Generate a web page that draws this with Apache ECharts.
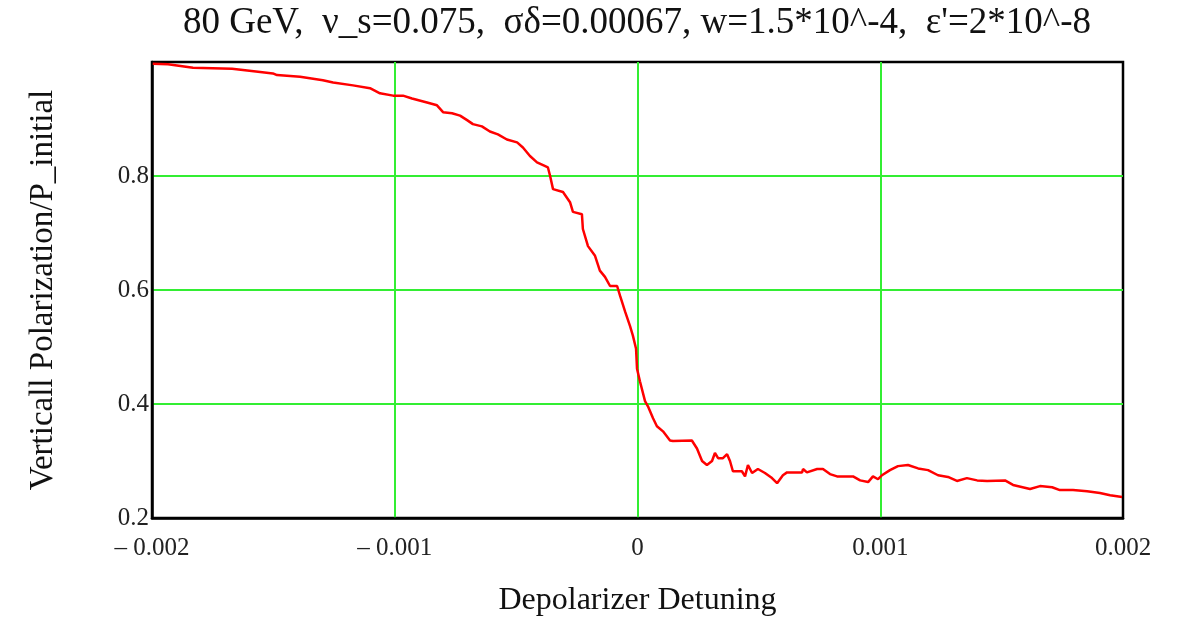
<!DOCTYPE html>
<html>
<head>
<meta charset="utf-8">
<script src="https://cdn.jsdelivr.net/npm/echarts@6/dist/echarts.min.js"></script>
<style>
  html, body { margin: 0; padding: 0; background: #fff; }
  #chart { width: 1183px; height: 622px; }
</style>
</head>
<body>
<div id="chart"></div>
<script>
// Depolarizer detuning sweep (x) and normalized vertical polarization (y)
const detuning = [
  -0.001997, -0.001934, -0.001926, -0.001831, -0.001670, -0.001666, -0.001563, -0.001502,
  -0.001485, -0.001390, -0.001382, -0.001296, -0.001254, -0.001172, -0.001102, -0.001061,
  -0.001007, -0.000966, -0.000929, -0.000867, -0.000826, -0.000801, -0.000764, -0.000731,
  -0.000702, -0.000678, -0.000641, -0.000608, -0.000575, -0.000538, -0.000496, -0.000472,
  -0.000443, -0.000414, -0.000389, -0.000369, -0.000360, -0.000348, -0.000307, -0.000278,
  -0.000266, -0.000229, -0.000225, -0.000204, -0.000175, -0.000155, -0.000134, -0.000113,
  -0.000084, -0.000072, -0.000051, -0.000031, -0.000019, -0.000006, -0.000002, 0.000010,
  0.000031, 0.000043, 0.000064, 0.000080, 0.000105, 0.000134, 0.000146, 0.000224,
  0.000245, 0.000266, 0.000286, 0.000307, 0.000319, 0.000332, 0.000352, 0.000369,
  0.000381, 0.000393, 0.000430, 0.000443, 0.000455, 0.000472, 0.000496, 0.000525,
  0.000554, 0.000575, 0.000599, 0.000616, 0.000678, 0.000682, 0.000698, 0.000740,
  0.000764, 0.000793, 0.000822, 0.000888, 0.000917, 0.000950, 0.000970, 0.000991,
  0.001007, 0.001040, 0.001073, 0.001114, 0.001156, 0.001197, 0.001238, 0.001279,
  0.001316, 0.001357, 0.001399, 0.001440, 0.001514, 0.001547, 0.001617, 0.001658,
  0.001708, 0.001740, 0.001794, 0.001852, 0.001905, 0.001947, 0.001996
];
const polarization = [
  0.997, 0.996, 0.993, 0.990, 0.988, 0.985, 0.983, 0.980,
  0.977, 0.974, 0.971, 0.968, 0.964, 0.959, 0.954, 0.945,
  0.941, 0.941, 0.936, 0.929, 0.924, 0.912, 0.910, 0.906,
  0.898, 0.891, 0.887, 0.878, 0.873, 0.864, 0.859, 0.850,
  0.835, 0.824, 0.819, 0.815, 0.800, 0.777, 0.772, 0.754,
  0.737, 0.733, 0.707, 0.677, 0.660, 0.634, 0.623, 0.607,
  0.607, 0.590, 0.562, 0.537, 0.520, 0.497, 0.462, 0.440,
  0.405, 0.396, 0.375, 0.361, 0.352, 0.336, 0.335, 0.336,
  0.322, 0.300, 0.293, 0.300, 0.314, 0.305, 0.305, 0.312,
  0.300, 0.282, 0.282, 0.273, 0.293, 0.279, 0.286, 0.279,
  0.270, 0.261, 0.275, 0.280, 0.280, 0.286, 0.280, 0.286,
  0.286, 0.277, 0.273, 0.273, 0.266, 0.263, 0.273, 0.268,
  0.275, 0.284, 0.291, 0.293, 0.287, 0.284, 0.275, 0.272,
  0.265, 0.270, 0.266, 0.265, 0.266, 0.258, 0.251, 0.256,
  0.254, 0.249, 0.249, 0.247, 0.244, 0.240, 0.237
];
const xTicks = { min: -0.002, max: 0.002, step: 0.001 };
const yTicks = { min: 0.2, max: 1.0, step: 0.2 };

const titleText = "80 GeV,  \u03BD_s=0.075,  \u03C3\u03B4=0.00067, w=1.5*10^-4,  \u03B5'=2*10^-8";
const serif = '"Liberation Serif", "DejaVu Serif", serif';

const chart = echarts.init(document.getElementById('chart'), null, { renderer: 'canvas' });

chart.setOption({
  animation: false,
  backgroundColor: '#ffffff',
  grid: {
    left: 152, right: 60, top: 62, bottom: 101,
    show: true, borderColor: '#000', borderWidth: 2.5, backgroundColor: 'transparent'
  },
  graphic: [
    {
      type: 'text', x: 637, y: 23,
      style: {
        text: titleText, font: '37px ' + serif, fill: '#111',
        align: 'center', verticalAlign: 'middle'
      }
    }
  ],
  xAxis: {
    type: 'value',
    min: xTicks.min, max: xTicks.max, interval: xTicks.step,
    name: 'Depolarizer Detuning',
    nameLocation: 'middle', nameGap: 67,
    nameTextStyle: { fontFamily: serif, fontSize: 32, color: '#111' },
    axisLine: { show: true, onZero: false, lineStyle: { color: '#000', width: 2.5 } },
    axisTick: { show: false },
    axisLabel: {
      fontFamily: serif, fontSize: 25, color: '#222', margin: 18,
      formatter: v => Math.abs(v) < 1e-12 ? '0' : (v < 0 ? '\u2013 ' + Math.abs(v).toFixed(3) : v.toFixed(3))
    },
    splitLine: {
      show: true, showMinLine: false, showMaxLine: false,
      lineStyle: { color: '#33ee33', width: 2 }
    }
  },
  yAxis: {
    type: 'value',
    min: yTicks.min, max: yTicks.max, interval: yTicks.step,
    name: 'Verticall Polarization/P_initial',
    nameLocation: 'middle', nameGap: 92, nameRotate: 90,
    nameTextStyle: { fontFamily: serif, fontSize: 33, color: '#111' },
    axisLine: { show: true, onZero: false, lineStyle: { color: '#000', width: 2.5 } },
    axisTick: { show: false },
    axisLabel: {
      fontFamily: serif, fontSize: 25, color: '#222', margin: 3,
      formatter: v => v > 0.999 ? '' : v.toFixed(1)
    },
    splitLine: {
      show: true, showMinLine: false, showMaxLine: false,
      lineStyle: { color: '#33ee33', width: 2 }
    }
  },
  series: [{
    type: 'line',
    data: detuning.map((x, i) => [x, polarization[i]]),
    showSymbol: false,
    lineStyle: { color: '#ff0000', width: 2.5 },
    z: 5
  }]
});
</script>
</body>
</html>
